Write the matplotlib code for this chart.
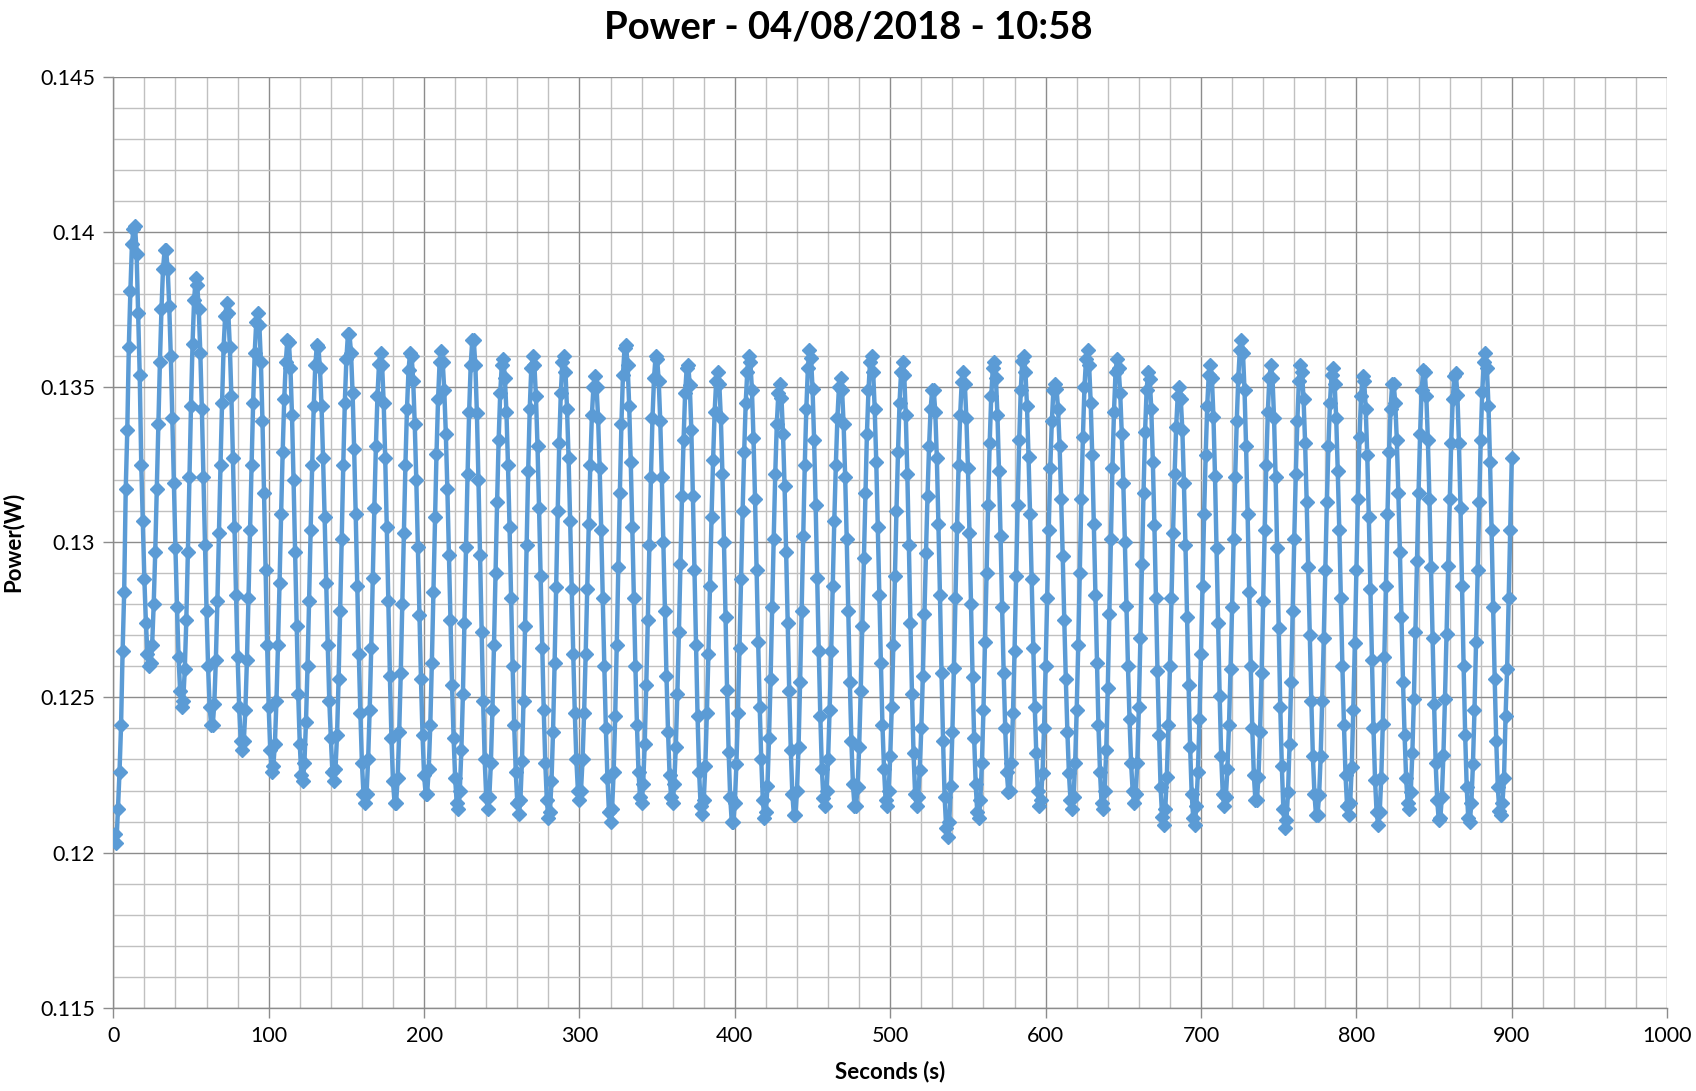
import matplotlib
matplotlib.use("Agg")
import matplotlib.pyplot as plt
from matplotlib.ticker import MultipleLocator, FuncFormatter
import numpy as np

plt.rcParams['font.family'] = ['Lato', 'DejaVu Sans']

# Power readings in mW, one per second starting at t = 1 s (10 per row)
power_mw = [
    120.6, 120.3, 121.4, 122.6, 124.1, 126.5, 128.4, 131.7, 133.6, 136.3,
    138.1, 139.6, 140.1, 140.2, 139.3, 137.4, 135.4, 132.5, 130.7, 128.8,
    127.4, 126.4, 126.0, 126.1, 126.7, 128.0, 129.7, 131.7, 133.8, 135.8,
    137.5, 138.8, 139.4, 139.4, 138.8, 137.6, 136.0, 134.0, 131.9, 129.8,
    127.9, 126.3, 125.2, 124.7, 124.9, 125.9, 127.5, 129.7, 132.1, 134.4,
    136.4, 137.8, 138.5, 138.3, 137.5, 136.1, 134.3, 132.1, 129.9, 127.8,
    126.0, 124.7, 124.1, 124.1, 124.8, 126.2, 128.1, 130.3, 132.5, 134.5,
    136.3, 137.3, 137.7, 137.4, 136.3, 134.7, 132.7, 130.5, 128.3, 126.3,
    124.7, 123.6, 123.3, 123.6, 124.6, 126.2, 128.2, 130.4, 132.5, 134.5,
    136.1, 137.1, 137.4, 137.0, 135.8, 133.9, 131.6, 129.1, 126.7, 124.7,
    123.3, 122.6, 122.8, 123.5, 124.9, 126.7, 128.7, 130.9, 132.9, 134.6,
    135.8, 136.5, 136.45, 135.6, 134.1, 132.0, 129.7, 127.3, 125.1, 123.5,
    122.5, 122.3, 122.9, 124.2, 126.0, 128.1, 130.4, 132.5, 134.4, 135.7,
    136.35, 136.3, 135.6, 134.4, 132.7, 130.8, 128.7, 126.7, 124.9, 123.7,
    122.6, 122.3, 122.7, 123.8, 125.6, 127.8, 130.1, 132.5, 134.5, 135.9,
    136.7, 136.7, 136.1, 134.8, 133.0, 130.9, 128.6, 126.4, 124.5, 122.9,
    121.9, 121.6, 121.9, 123.0, 124.6, 126.6, 128.85, 131.1, 133.1, 134.7,
    135.75, 136.1, 135.7, 134.5, 132.7, 130.5, 128.1, 125.7, 123.7, 122.3,
    121.6, 121.6, 122.4, 123.9, 125.8, 128.0, 130.3, 132.5, 134.3, 135.55,
    136.1, 136.0, 135.2, 133.8, 132.0, 129.85, 127.65, 125.6, 123.8, 122.5,
    121.9, 121.9, 122.7, 124.1, 126.1, 128.4, 130.8, 132.85, 134.6, 135.8,
    136.15, 135.8, 134.9, 133.5, 131.7, 129.6, 127.5, 125.4, 123.7, 122.4,
    121.6, 121.4, 122.0, 123.3, 125.1, 127.4, 129.85, 132.2, 134.2, 135.7,
    136.5, 136.5, 135.7, 134.15, 132.0, 129.6, 127.1, 124.9, 123.0, 121.8,
    121.4, 121.8, 122.9, 124.6, 126.7, 129.0, 131.3, 133.3, 134.8, 135.7,
    135.9, 135.3, 134.2, 132.5, 130.5, 128.2, 126.0, 124.1, 122.6, 121.6,
    121.25, 121.7, 122.95, 124.9, 127.3, 129.9, 132.3, 134.3, 135.6, 136.0,
    135.7, 134.7, 133.1, 131.1, 128.9, 126.6, 124.6, 122.9, 121.7, 121.1,
    121.3, 122.3, 123.9, 126.1, 128.55, 131.0, 133.2, 134.8, 135.8, 136.0,
    135.5, 134.3, 132.7, 130.7, 128.5, 126.4, 124.5, 123.0, 122.0, 121.7,
    122.0, 123.0, 124.5, 126.4, 128.5, 130.6, 132.5, 134.1, 135.0, 135.35,
    135.0, 134.0, 132.4, 130.4, 128.2, 126.0, 124.0, 122.4, 121.3, 121.0,
    121.4, 122.6, 124.4, 126.7, 129.2, 131.6, 133.8, 135.4, 136.25, 136.35,
    135.7, 134.4, 132.6, 130.5, 128.2, 126.0, 124.1, 122.6, 121.8, 121.6,
    122.2, 123.5, 125.4, 127.5, 129.9, 132.1, 134.0, 135.3, 136.0, 135.9,
    135.2, 133.9, 132.1, 130.0, 127.8, 125.7, 123.9, 122.5, 121.8, 121.6,
    122.2, 123.4, 125.1, 127.1, 129.3, 131.5, 133.3, 134.8, 135.6, 135.7,
    135.05, 133.6, 131.5, 129.1, 126.7, 124.4, 122.6, 121.5, 121.25, 121.7,
    122.8, 124.5, 126.4, 128.6, 130.8, 132.65, 134.2, 135.2, 135.5, 135.1,
    134.0, 132.2, 130.0, 127.6, 125.25, 123.25, 121.8, 121.0, 121.0, 121.6,
    122.85, 124.5, 126.6, 128.8, 131.0, 132.9, 134.5, 135.5, 136.0, 135.8,
    134.9, 133.35, 131.4, 129.1, 126.8, 124.7, 123.0, 121.7, 121.1, 121.3,
    122.15, 123.7, 125.6, 127.9, 130.1, 132.2, 133.8, 134.8, 135.1, 134.65,
    133.5, 131.8, 129.7, 127.4, 125.2, 123.3, 121.9, 121.2, 121.2, 122.0,
    123.4, 125.5, 127.8, 130.2, 132.5, 134.3, 135.6, 136.2, 135.95, 134.95,
    133.3, 131.2, 128.85, 126.5, 124.4, 122.7, 121.75, 121.5, 122.0, 123.0,
    124.6, 126.5, 128.6, 130.7, 132.5, 134.0, 135.0, 135.3, 134.9, 133.8,
    132.1, 130.1, 127.8, 125.5, 123.6, 122.2, 121.5, 121.5, 122.1, 123.4,
    125.2, 127.3, 129.5, 131.6, 133.5, 134.9, 135.8, 136.0, 135.5, 134.3,
    132.6, 130.5, 128.3, 126.1, 124.1, 122.7, 121.7, 121.5, 122.0, 123.1,
    124.7, 126.7, 128.9, 131.0, 132.9, 134.5, 135.5, 135.8, 135.4, 134.1,
    132.2, 129.9, 127.4, 125.1, 123.2, 121.9, 121.5, 121.8, 122.65, 124.0,
    125.7, 127.7, 129.65, 131.5, 133.1, 134.3, 134.9, 134.9, 134.2, 132.7,
    130.6, 128.3, 125.8, 123.6, 121.8, 120.8, 120.5, 121.0, 122.15, 123.9,
    125.95, 128.2, 130.5, 132.5, 134.1, 135.15, 135.5, 135.1, 134.0, 132.4,
    130.3, 128.0, 125.65, 123.7, 122.2, 121.3, 121.1, 121.7, 122.9, 124.6,
    126.8, 129.0, 131.2, 133.2, 134.7, 135.6, 135.8, 135.3, 134.1, 132.3,
    130.2, 127.9, 125.8, 124.0, 122.6, 121.95, 122.0, 122.9, 124.5, 126.5,
    128.9, 131.2, 133.3, 134.9, 135.85, 136.0, 135.5, 134.4, 132.75, 130.9,
    128.8, 126.6, 124.7, 123.2, 122.0, 121.5, 121.7, 122.55, 124.0, 126.0,
    128.2, 130.4, 132.4, 133.9, 134.9, 135.1, 134.95, 134.3, 133.1, 131.4,
    129.55, 127.5, 125.6, 123.9, 122.55, 121.7, 121.4, 121.8, 122.9, 124.6,
    126.7, 129.0, 131.4, 133.4, 135.0, 135.9, 136.2, 135.7, 134.5, 132.8,
    130.6, 128.3, 126.1, 124.1, 122.6, 121.6, 121.4, 122.0, 123.3, 125.3,
    127.7, 130.1, 132.4, 134.2, 135.5, 135.9, 135.6, 134.8, 133.5, 131.9,
    130.0, 127.95, 126.0, 124.3, 122.9, 122.0, 121.6, 121.9, 122.9, 124.7,
    126.9, 129.3, 131.6, 133.55, 134.9, 135.5, 135.25, 134.3, 132.6, 130.55,
    128.2, 125.85, 123.8, 122.1, 121.15, 120.9, 121.4, 122.45, 124.1, 126.0,
    128.2, 130.3, 132.2, 133.7, 134.7, 135.0, 134.6, 133.6, 131.9, 129.9,
    127.6, 125.4, 123.4, 121.9, 121.1, 120.9, 121.5, 122.6, 124.3, 126.4,
    128.6, 130.9, 132.8, 134.4, 135.4, 135.7, 135.3, 134.05, 132.15, 129.8,
    127.4, 125.05, 123.1, 121.9, 121.5, 121.8, 122.7, 124.1, 125.9, 127.9,
    130.1, 132.1, 133.9, 135.3, 136.2, 136.5, 136.1, 134.9, 133.1, 130.9,
    128.4, 126.0, 124.0, 122.5, 121.7, 121.7, 122.45, 123.9, 125.8, 128.1,
    130.4, 132.5, 134.2, 135.3, 135.7, 135.3, 134.0, 132.1, 129.8, 127.25,
    124.7, 122.8, 121.4, 120.8, 121.05, 121.95, 123.5, 125.5, 127.8, 130.1,
    132.2, 133.9, 135.2, 135.7, 135.5, 134.6, 133.2, 131.3, 129.2, 127.0,
    124.9, 123.1, 121.9, 121.2, 121.2, 121.85, 123.1, 124.9, 126.9, 129.1,
    131.3, 133.1, 134.5, 135.4, 135.6, 135.1, 134.0, 132.3, 130.4, 128.2,
    126.0, 124.1, 122.5, 121.5, 121.2, 121.6, 122.75, 124.6, 126.75, 129.1,
    131.4, 133.4, 134.7, 135.35, 135.2, 134.3, 132.8, 130.8, 128.5, 126.2,
    124.0, 122.35, 121.3, 120.9, 121.3, 122.4, 124.15, 126.3, 128.6, 130.9,
    132.9, 134.3, 135.1, 135.1, 134.5, 133.3, 131.6, 129.7, 127.6, 125.5,
    123.8, 122.4, 121.6, 121.4, 121.95, 123.2, 124.95, 127.1, 129.4, 131.6,
    133.5, 134.9, 135.55, 135.5, 134.7, 133.3, 131.4, 129.2, 126.9, 124.8,
    122.9, 121.7, 121.05, 121.1, 121.8, 123.15, 124.95, 127.05, 129.25, 131.4,
    133.2, 134.6, 135.35, 135.45, 134.75, 133.2, 131.1, 128.6, 126.0, 123.8,
    122.1, 121.1, 121.0, 121.6, 122.85, 124.6, 126.8, 129.1, 131.3, 133.3,
    134.85, 135.8, 136.1, 135.6, 134.4, 132.6, 130.4, 127.9, 125.6, 123.6,
    122.1, 121.35, 121.2, 121.6, 122.4, 124.4, 125.9, 128.2, 130.4, 132.7,
]
first_second = 1

title = "Power - 04/08/2018 - 10:58"
x_label = "Seconds (s)"
y_label = "Power(W)"

seconds = np.arange(first_second, first_second + len(power_mw))
power_w = np.array(power_mw) / 1000.0

fig = plt.figure(figsize=(16.96, 10.91), dpi=100)
ax = fig.add_axes([0.0668, 0.0763, 0.9162, 0.8534])

ax.plot(seconds, power_w, color='#5B9BD5', linewidth=3.2, marker='D',
        markersize=7.5, markerfacecolor='#5B9BD5', markeredgecolor='#5B9BD5',
        zorder=3)

ax.set_xlim(0, 1000)
ax.set_ylim(0.115, 0.145)
ax.xaxis.set_major_locator(MultipleLocator(100))
ax.xaxis.set_minor_locator(MultipleLocator(20))
ax.yaxis.set_major_locator(MultipleLocator(0.005))
ax.yaxis.set_minor_locator(MultipleLocator(0.001))
ax.yaxis.set_major_formatter(FuncFormatter(lambda v, p: ('%.3f' % v).rstrip('0')))

ax.grid(which='major', color='#8C8C8C', linewidth=1.0, zorder=0)
ax.grid(which='minor', color='#C0C0C0', linewidth=1.0, zorder=0)
ax.set_axisbelow(True)

for side in ['top', 'right']:
    ax.spines[side].set_visible(False)
for side in ['left', 'bottom']:
    ax.spines[side].set_color('#8C8C8C')
    ax.spines[side].set_linewidth(1.0)

ax.tick_params(which='major', length=7, width=1.0, color='#8C8C8C',
               labelsize=15.5, labelcolor='black', pad=6)
ax.tick_params(which='minor', length=0)

ax.set_xlabel(x_label, fontsize=16, fontweight='bold', labelpad=11)
ax.set_ylabel(y_label, fontsize=16, fontweight='bold', labelpad=12)
fig.suptitle(title, fontsize=27.5, fontweight='bold', y=0.99)

fig.savefig('out.png', dpi=100)
